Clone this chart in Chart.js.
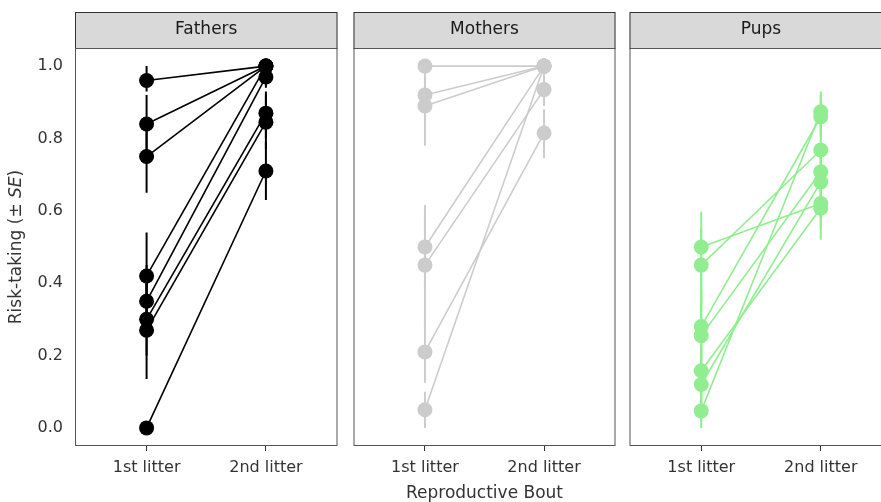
<!DOCTYPE html>
<html>
<head>
<meta charset="utf-8">
<script src="https://cdn.jsdelivr.net/npm/chart.js@4.4.1/dist/chart.umd.min.js"></script>
<style>
	body { margin: 0; background: #ffffff; overflow: hidden; }
	#wrap { position: relative; width: 881px; height: 502px; overflow: hidden; }
	canvas { position: absolute; top: 0; }
</style>
</head>
<body>
<div id="wrap">
	<canvas id="fathersChart" width="345" height="502" style="left:0px"></canvas>
	<canvas id="mothersChart" width="277" height="502" style="left:346px"></canvas>
	<canvas id="pupsChart" width="278" height="502" style="left:622px"></canvas>
</div>
<script>
const litters = ["1st litter", "2nd litter"];
const yTicks = [0, 0.2, 0.4, 0.6, 0.8, 1.0];

// Fathers, one entry per individual
const fathersFirst = [0.96, 0.84, 0.75, 0.42, 0.35, 0.30, 0.27, 0.00];
const fathersSecond = [1.00, 1.00, 1.00, 1.00, 0.97, 0.87, 0.845, 0.71];
const fathersFirstLo = [0.93, 0.76, 0.65, 0.30, 0.25, 0.20, 0.135, 0.00];
const fathersFirstHi = [1.00, 0.92, 0.85, 0.54, 0.45, 0.40, 0.40, 0.00];
const fathersSecondLo = [1.00, 1.00, 1.00, 1.00, 0.94, 0.80, 0.77, 0.63];
const fathersSecondHi = [1.00, 1.00, 1.00, 1.00, 1.00, 0.93, 0.92, 0.79];

// Mothers
const mothersFirst = [1.00, 0.92, 0.89, 0.50, 0.45, 0.21, 0.05];
const mothersSecond = [1.00, 1.00, 1.00, 1.00, 0.935, 0.815, 1.00];
const mothersFirstLo = [1.00, 0.85, 0.78, 0.39, 0.28, 0.125, 0.00];
const mothersFirstHi = [1.00, 1.00, 0.99, 0.616, 0.60, 0.30, 0.10];
const mothersSecondLo = [1.00, 1.00, 1.00, 1.00, 0.89, 0.745, 1.00];
const mothersSecondHi = [1.00, 1.00, 1.00, 1.00, 0.98, 0.88, 1.00];

// Pups
const pupsFirst = [0.50, 0.45, 0.28, 0.255, 0.158, 0.12, 0.047];
const pupsSecond = [0.62, 0.768, 0.86, 0.708, 0.607, 0.68, 0.874];
const pupsFirstLo = [0.40, 0.33, 0.15, 0.10, 0.05, 0.02, 0.00];
const pupsFirstHi = [0.598, 0.55, 0.40, 0.38, 0.27, 0.22, 0.10];
const pupsSecondLo = [0.55, 0.68, 0.80, 0.62, 0.52, 0.58, 0.82];
const pupsSecondHi = [0.70, 0.85, 0.92, 0.79, 0.68, 0.76, 0.93];

const FONT = "'DejaVu Sans', sans-serif";
const TEXT = "#333333";

// grey strip on top + border round the panel
const panelFrame = {
	id: "panelFrame",
	afterDraw(chart, args, opts) {
		const { ctx, chartArea: a } = chart;
		const w = a.right - a.left;
		ctx.save();
		ctx.fillStyle = "#d9d9d9";
		ctx.fillRect(a.left, a.top - 36, w, 36);
		ctx.strokeStyle = "#333333";
		ctx.lineWidth = 1;
		ctx.strokeRect(a.left + 0.5, a.top - 35.5, w - 1, 36);
		ctx.strokeStyle = "#555555";
		ctx.strokeRect(a.left + 0.5, a.top + 0.5, w - 1, a.bottom - a.top - 1);
		ctx.fillStyle = "#1a1a1a";
		ctx.font = "17px " + FONT;
		ctx.textAlign = "center";
		ctx.textBaseline = "middle";
		ctx.fillText(opts.label, a.left + w / 2, a.top - 18);
		ctx.restore();
	}
};

// y title with italic SE
const yTitle = {
	id: "yTitle",
	afterDraw(chart, args, opts) {
		if (!opts.show) return;
		const { ctx, chartArea: a } = chart;
		const parts = [["Risk-taking (± ", "normal"], ["SE", "italic"], [")", "normal"]];
		ctx.save();
		let total = 0;
		parts.forEach((p) => {
			ctx.font = p[1] + " 17px " + FONT;
			total += ctx.measureText(p[0]).width;
		});
		ctx.translate(17, (a.top + a.bottom) / 2);
		ctx.rotate(-Math.PI / 2);
		ctx.fillStyle = TEXT;
		ctx.textBaseline = "middle";
		let x = -total / 2;
		parts.forEach((p) => {
			ctx.font = p[1] + " 17px " + FONT;
			ctx.fillText(p[0], x, 0);
			x += ctx.measureText(p[0]).width;
		});
		ctx.restore();
	}
};

function buildDatasets(color, first, second, firstLo, firstHi, secondLo, secondHi) {
	const sets = [];
	first.forEach((v, i) => {
		sets.push({
			data: [{ x: 1, y: v }, { x: 2, y: second[i] }],
			borderColor: color,
			backgroundColor: color,
			borderWidth: 1.6,
			pointRadius: 7.5,
			pointBorderWidth: 0,
			order: 1,
		});
		sets.push({
			data: [{ x: 1, y: firstLo[i] }, { x: 1, y: firstHi[i] }],
			borderColor: color,
			borderWidth: 2,
			pointRadius: 0,
			order: 2,
		});
		sets.push({
			data: [{ x: 2, y: secondLo[i] }, { x: 2, y: secondHi[i] }],
			borderColor: color,
			borderWidth: 2,
			pointRadius: 0,
			order: 2,
		});
	});
	return sets;
}

function createPanel(canvasId, label, color, sets, padding, withY, withXTitle) {
	const canvas = document.getElementById(canvasId);
	const ctx = canvas.getContext("2d");

	new Chart(ctx, {
		type: "line",
		data: { datasets: sets },
		options: {
			responsive: false,
			animation: false,
			layout: { padding: padding },
			plugins: {
				legend: { display: false },
				tooltip: { enabled: false },
				panelFrame: { label: label },
				yTitle: { show: withY },
			},
			scales: {
				x: {
					type: "linear",
					min: 0.4,
					max: 2.6,
					afterBuildTicks: (scale) => {
						scale.ticks = [1, 2].map((v) => ({ value: v }));
					},
					afterFit: (scale) => {
						scale.height = 56;
					},
					ticks: {
						autoSkip: false,
						maxRotation: 0,
						padding: 7,
						color: TEXT,
						font: { family: FONT, size: 16 },
						callback: (v) => litters[v - 1],
					},
					grid: {
						display: true,
						drawOnChartArea: false,
						drawTicks: true,
						tickLength: 5,
						tickWidth: 1,
						tickColor: "#333333",
					},
					border: { display: false },
					title: {
						display: withXTitle,
						text: "Reproductive Bout",
						color: TEXT,
						font: { family: FONT, size: 17, lineHeight: 1 },
						padding: { top: 0, bottom: 0 },
					},
				},
				y: {
					display: withY,
					min: -0.05,
					max: 1.05,
					afterBuildTicks: (scale) => {
						scale.ticks = yTicks.map((v) => ({ value: v }));
					},
					afterFit: (scale) => {
						scale.width = withY ? 75 : 0;
					},
					ticks: {
						padding: 12,
						color: TEXT,
						font: { family: FONT, size: 16 },
						callback: (v) => v.toFixed(1),
					},
					grid: { display: true, drawOnChartArea: false, drawTicks: false },
					border: { display: false },
				},
			},
		},
		plugins: [panelFrame, yTitle],
	});
}

createPanel("fathersChart", "Fathers", "#000000",
	buildDatasets("#000000", fathersFirst, fathersSecond, fathersFirstLo, fathersFirstHi, fathersSecondLo, fathersSecondHi),
	{ left: 0, right: 6, top: 48, bottom: 0 }, true, false);
createPanel("mothersChart", "Mothers", "#cccccc",
	buildDatasets("#cccccc", mothersFirst, mothersSecond, mothersFirstLo, mothersFirstHi, mothersSecondLo, mothersSecondHi),
	{ left: 6, right: 6, top: 48, bottom: 0 }, false, true);
createPanel("pupsChart", "Pups", "#90ee90",
	buildDatasets("#90ee90", pupsFirst, pupsSecond, pupsFirstLo, pupsFirstHi, pupsSecondLo, pupsSecondHi),
	{ left: 6, right: 7, top: 48, bottom: 0 }, false, false);
</script>
</body>
</html>
